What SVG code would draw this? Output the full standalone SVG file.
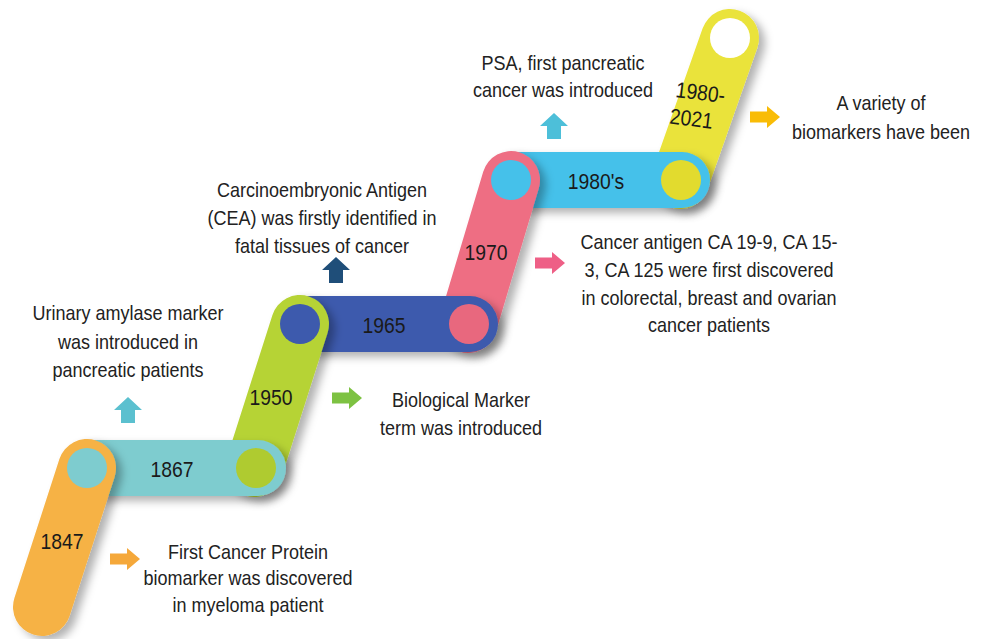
<svg xmlns="http://www.w3.org/2000/svg" width="986" height="639" viewBox="0 0 986 639">
<defs>
<filter id="sh" filterUnits="userSpaceOnUse" x="0" y="0" width="986" height="639">
<feDropShadow dx="6" dy="5" stdDeviation="4.5" flood-color="#000" flood-opacity="0.3"/>
</filter>
<style>
.pill{fill:none;stroke-linecap:round;filter:url(#sh)}
.slant{stroke-width:58}
.hor{stroke-width:56}
.yr{font-family:"Liberation Sans",Arial,sans-serif;font-size:22px;fill:#1a1a1a;text-anchor:middle}
.yrs{font-family:"Liberation Sans",Arial,sans-serif;font-size:22px;fill:#1a1a1a;text-anchor:start}
.desc{font-family:"Liberation Sans",Arial,sans-serif;font-size:20px;fill:#222;text-anchor:middle}
</style>
</defs>
<rect width="986" height="639" fill="#fff"/>

<g id="node-1980-2021">
<line class="pill slant" x1="680" y1="180" x2="730" y2="38" stroke="#EAE33A"/>
<circle cx="730" cy="38" r="20" fill="#fff"/>
<g transform="rotate(7 675 97) translate(675 0) scale(0.88 1) translate(-675 0)">
<text class="yrs" x="675" y="97">1980-</text>
<text class="yrs" x="672" y="124">2021</text>
</g>
</g>

<g id="node-1980s">
<line class="pill hor" x1="511" y1="180" x2="682" y2="180" stroke="#45C1EA"/>
<circle cx="681" cy="180" r="20" fill="#E2DB2E"/>
<text class="yr" x="596" y="189" transform="translate(596 0) scale(0.88 1) translate(-596 0)">1980's</text>
</g>

<g id="node-1970">
<line class="pill slant" x1="468" y1="324" x2="511" y2="180" stroke="#EE6E83"/>
<circle cx="511" cy="180" r="20" fill="#45C1EA"/>
<text class="yr" x="486" y="260" transform="translate(486 0) scale(0.88 1) translate(-486 0)">1970</text>
</g>

<g id="node-1965">
<line class="pill hor" x1="300" y1="324" x2="470" y2="324" stroke="#3D5AAD"/>
<circle cx="469" cy="324" r="20" fill="#E8687E"/>
<text class="yr" x="384" y="333" transform="translate(384 0) scale(0.88 1) translate(-384 0)">1965</text>
</g>

<g id="node-1950">
<line class="pill slant" x1="254" y1="468" x2="300" y2="324" stroke="#B6D335"/>
<circle cx="300" cy="324" r="20" fill="#3D5AAD"/>
<text class="yr" x="271" y="405" transform="translate(271 0) scale(0.88 1) translate(-271 0)">1950</text>
</g>

<g id="node-1867">
<line class="pill hor" x1="87" y1="468" x2="258" y2="468" stroke="#7ECCCF"/>
<circle cx="256" cy="468" r="20" fill="#AFCB30"/>
<text class="yr" x="172" y="477" transform="translate(172 0) scale(0.88 1) translate(-172 0)">1867</text>
</g>

<g id="node-1847">
<line class="pill slant" x1="87" y1="468" x2="42" y2="607" stroke="#F6B245"/>
<circle cx="87" cy="468" r="20" fill="#7ECCCF"/>
<text class="yr" x="62" y="549" transform="translate(62 0) scale(0.88 1) translate(-62 0)">1847</text>
</g>

<g id="connectors">
<polygon fill="#F5A83A" points="110,553.5 127,553.5 127,548 140,559 127,570 127,564.5 110,564.5"/>
<polygon fill="#5BC0CF" points="128,397 142,410 135,410 135,423 121,423 121,410 114,410"/>
<polygon fill="#7DC242" points="332,392.5 349,392.5 349,387 362,398 349,409 349,403.5 332,403.5"/>
<polygon fill="#1F4E79" points="336,257 350,270 343,270 343,283 329,283 329,270 322,270"/>
<polygon fill="#EE5F86" points="535,257.5 552,257.5 552,252 565,263 552,274 552,268.5 535,268.5"/>
<polygon fill="#4DBFD9" points="554,113 568,126 561,126 561,139 547,139 547,126 540,126"/>
<polygon fill="#F9BC06" points="750,111.5 767,111.5 767,106 780,117 767,128 767,122.5 750,122.5"/>
</g>

<g id="text-1847" transform="translate(248 0) scale(0.9 1) translate(-248 0)">
<text class="desc" x="248" y="559">First Cancer Protein</text>
<text class="desc" x="248" y="585">biomarker was discovered</text>
<text class="desc" x="248" y="612">in myeloma patient</text>
</g>
<g id="text-1867" transform="translate(128 0) scale(0.9 1) translate(-128 0)">
<text class="desc" x="128" y="320">Urinary amylase marker</text>
<text class="desc" x="128" y="349">was introduced in</text>
<text class="desc" x="128" y="377">pancreatic patients</text>
</g>
<g id="text-1950" transform="translate(461 0) scale(0.9 1) translate(-461 0)">
<text class="desc" x="461" y="407">Biological Marker</text>
<text class="desc" x="461" y="435">term was introduced</text>
</g>
<g id="text-1965" transform="translate(322 0) scale(0.9 1) translate(-322 0)">
<text class="desc" x="322" y="197">Carcinoembryonic Antigen</text>
<text class="desc" x="322" y="225">(CEA) was firstly identified in</text>
<text class="desc" x="322" y="253">fatal tissues of cancer</text>
</g>
<g id="text-1970" transform="translate(709 0) scale(0.9 1) translate(-709 0)">
<text class="desc" x="709" y="249">Cancer antigen CA 19-9, CA 15-</text>
<text class="desc" x="709" y="277">3, CA 125 were first discovered</text>
<text class="desc" x="709" y="305">in colorectal, breast and ovarian</text>
<text class="desc" x="709" y="332">cancer patients</text>
</g>
<g id="text-1980s" transform="translate(563 0) scale(0.9 1) translate(-563 0)">
<text class="desc" x="563" y="70">PSA, first pancreatic</text>
<text class="desc" x="563" y="97">cancer was introduced</text>
</g>
<g id="text-1980-2021" transform="translate(881 0) scale(0.9 1) translate(-881 0)">
<text class="desc" x="881" y="110">A variety of</text>
<text class="desc" x="881" y="139">biomarkers have been</text>
</g>
</svg>
